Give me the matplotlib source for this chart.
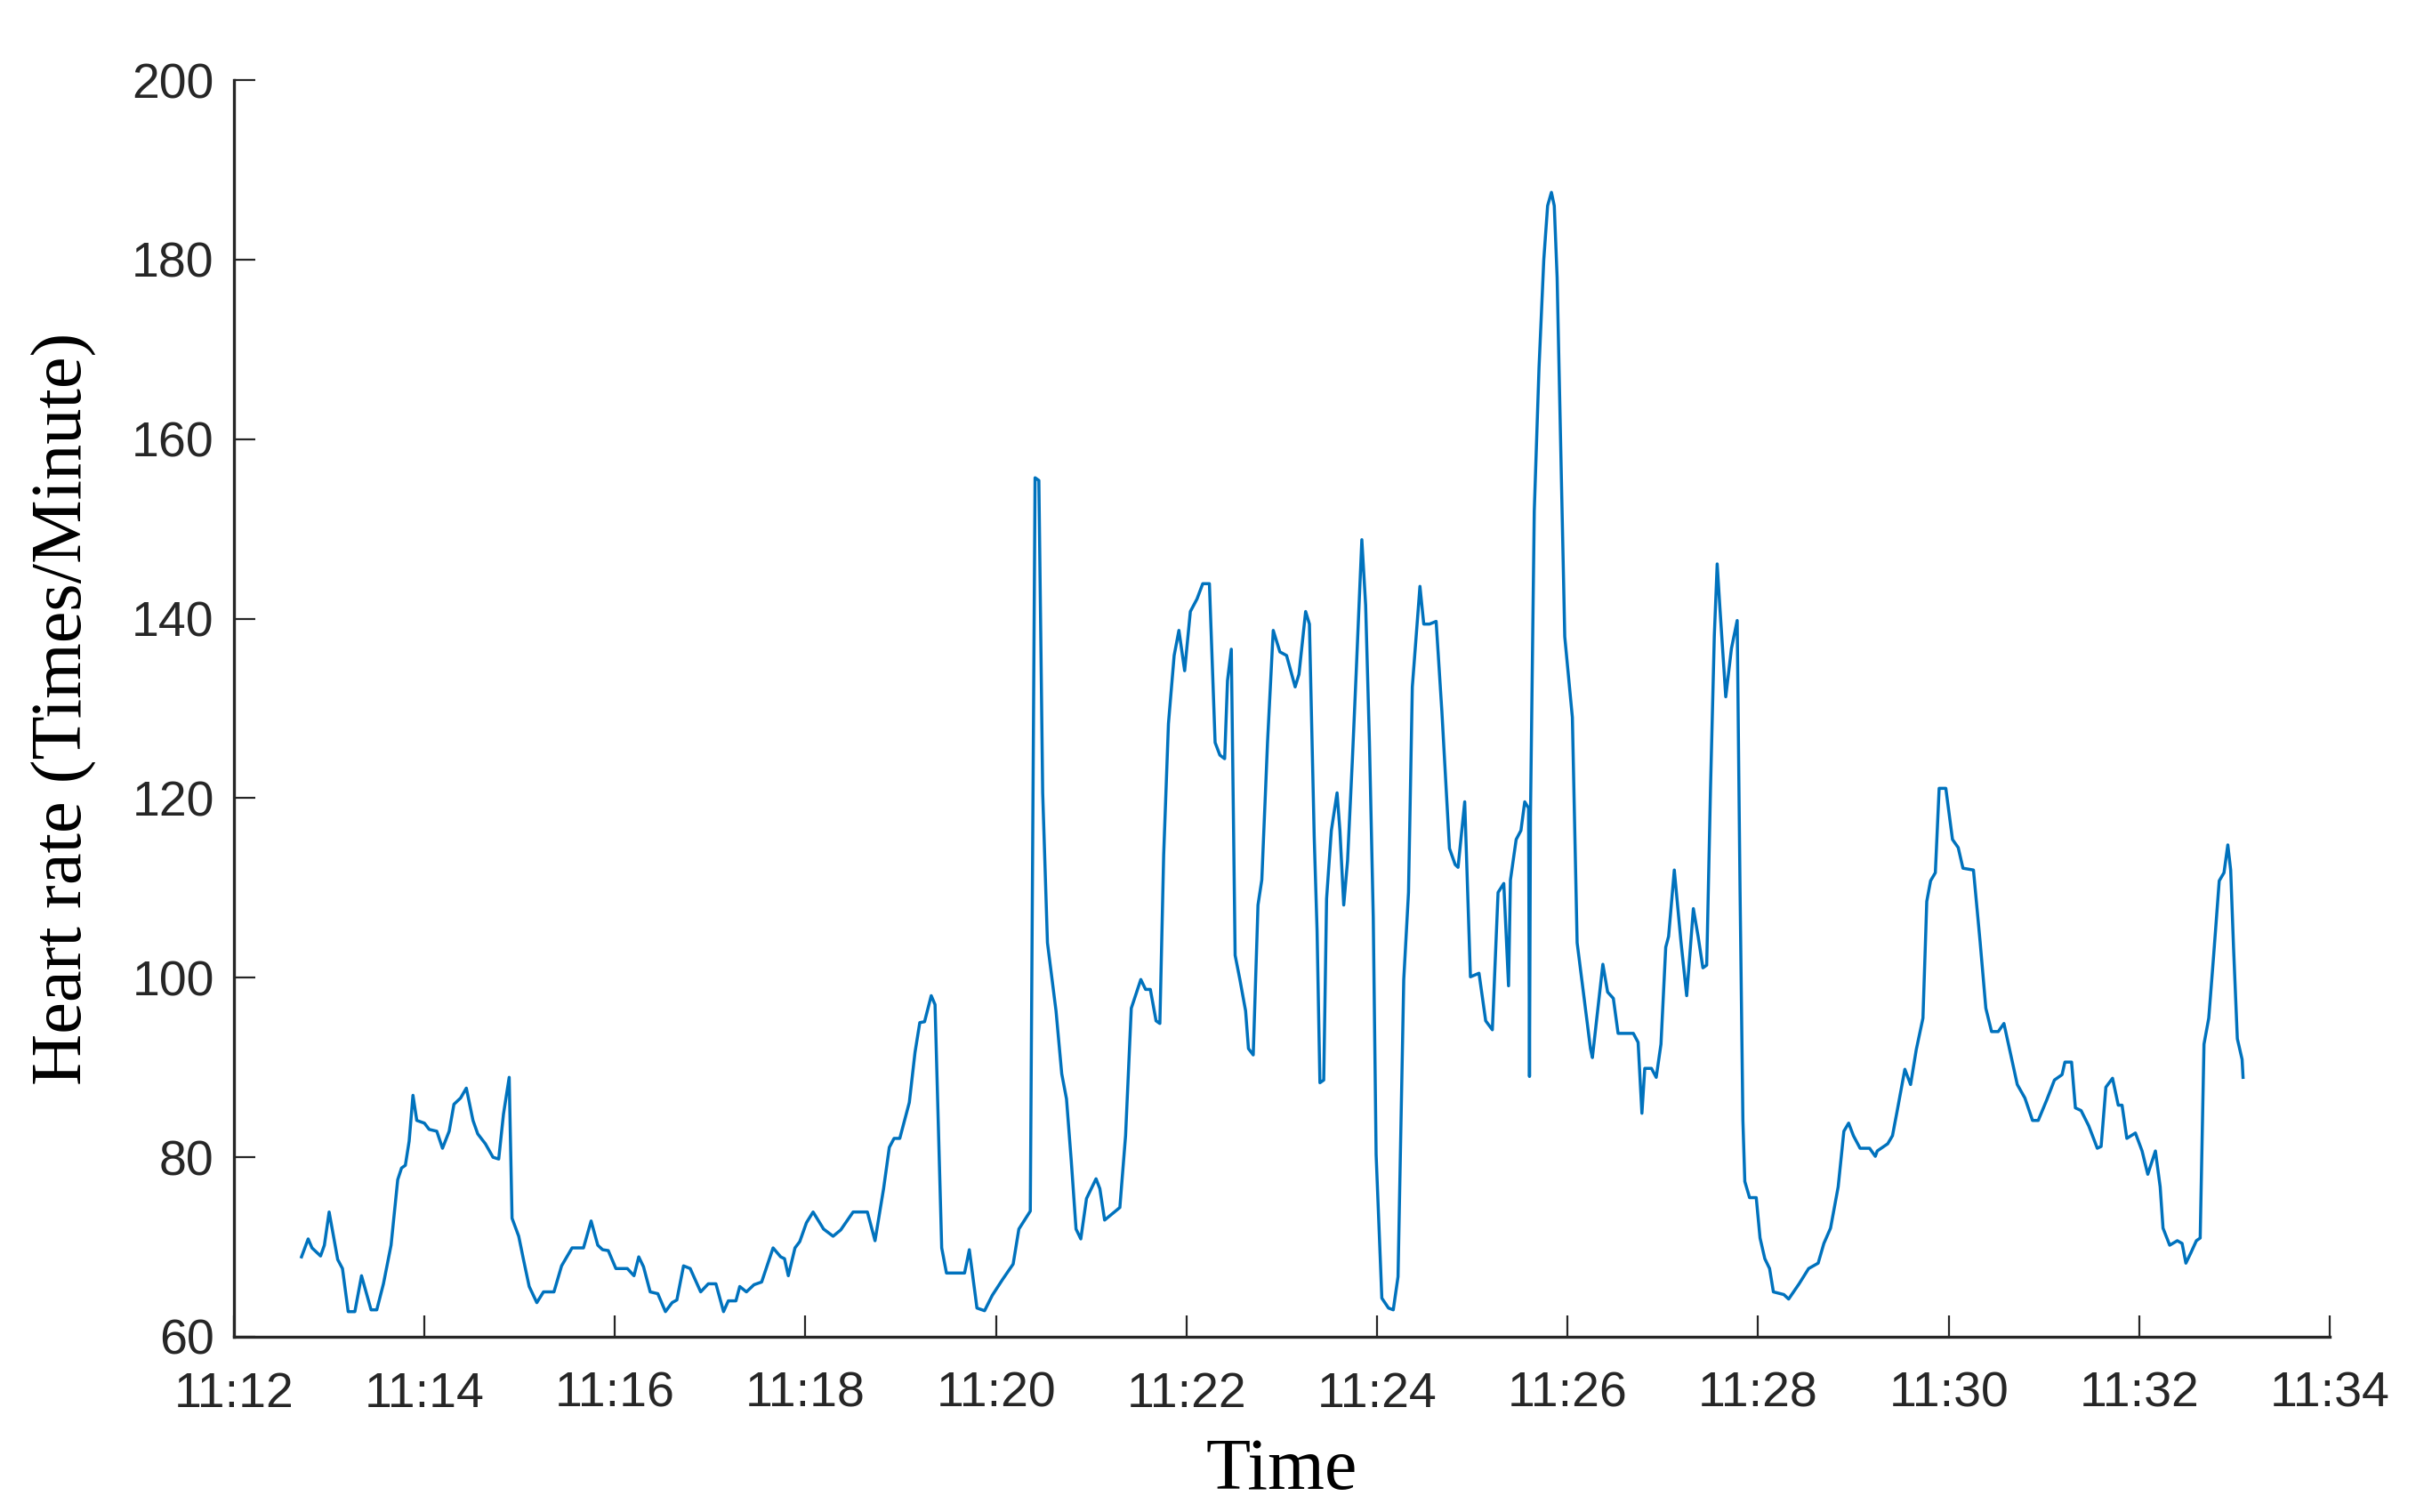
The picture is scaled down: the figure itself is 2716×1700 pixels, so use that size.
import numpy as np
import matplotlib
matplotlib.use("Agg")
import matplotlib.pyplot as plt
import matplotlib.dates as mdates

# minutes after 11:12 and heart rate
minutes = [
    0.71, 0.78, 0.82, 0.91, 0.95, 1.00, 1.09, 1.14, 1.20, 1.27, 1.34, 1.44, 1.50, 1.57, 1.65,
    1.72, 1.76, 1.80, 1.84, 1.88, 1.92, 2.00, 2.05, 2.13, 2.19, 2.26, 2.31, 2.38, 2.44, 2.51,
    2.56, 2.64, 2.72, 2.78, 2.83, 2.89, 2.92, 2.99, 3.04, 3.10, 3.18, 3.25, 3.36, 3.44, 3.55,
    3.67, 3.75, 3.82, 3.87, 3.93, 4.01, 4.13, 4.20, 4.25, 4.30, 4.37, 4.45, 4.53, 4.60, 4.65,
    4.72, 4.79, 4.90, 4.98, 5.06, 5.14, 5.19, 5.27, 5.31, 5.38, 5.46, 5.54, 5.66, 5.74, 5.78,
    5.82, 5.89, 5.94, 6.01, 6.08, 6.19, 6.29, 6.37, 6.50, 6.65, 6.73, 6.82, 6.88, 6.93, 6.99,
    7.09, 7.15, 7.20, 7.25, 7.32, 7.36, 7.43, 7.48, 7.67, 7.72, 7.80, 7.88, 7.96, 8.07, 8.18,
    8.24, 8.36, 8.41, 8.45, 8.49, 8.54, 8.63, 8.69, 8.74, 8.79, 8.84, 8.89, 8.95, 9.05, 9.09,
    9.14, 9.22, 9.30, 9.36, 9.42, 9.52, 9.57, 9.62, 9.68, 9.72, 9.76, 9.81, 9.87, 9.92, 9.98,
    10.04, 10.11, 10.17, 10.24, 10.30, 10.35, 10.40, 10.43, 10.47, 10.51, 10.56, 10.62, 10.65,
    10.70, 10.75, 10.79, 10.85, 10.91, 10.98, 11.05, 11.14, 11.18, 11.25, 11.29, 11.34, 11.37,
    11.40, 11.44, 11.47, 11.52, 11.58, 11.61, 11.65, 11.69, 11.74, 11.78, 11.84, 11.88, 11.92,
    11.96, 11.99, 12.05, 12.12, 12.17, 12.22, 12.28, 12.33, 12.37, 12.41, 12.45, 12.49, 12.55,
    12.62, 12.68, 12.76, 12.82, 12.85, 12.92, 12.98, 13.07, 13.14, 13.21, 13.27, 13.33, 13.38,
    13.40, 13.46, 13.51, 13.55, 13.59, 13.60, 13.61, 13.65, 13.70, 13.75, 13.79, 13.83, 13.86,
    13.89, 13.92, 13.97, 14.05, 14.10, 14.24, 14.26, 14.37, 14.42, 14.48, 14.53, 14.69, 14.74,
    14.78, 14.81, 14.88, 14.93, 14.98, 15.03, 15.06, 15.12, 15.19, 15.25, 15.32, 15.37, 15.42,
    15.46, 15.50, 15.54, 15.57, 15.60, 15.66, 15.72, 15.78, 15.81, 15.84, 15.86, 15.91, 15.98,
    16.02, 16.07, 16.12, 16.16, 16.27, 16.32, 16.43, 16.53, 16.63, 16.69, 16.76, 16.84, 16.90,
    16.95, 17.00, 17.07, 17.17, 17.23, 17.25, 17.36, 17.41, 17.46, 17.54, 17.60, 17.66, 17.73,
    17.77, 17.81, 17.86, 17.90, 17.97, 18.04, 18.10, 18.15, 18.26, 18.33, 18.39, 18.45, 18.52,
    18.58, 18.65, 18.72, 18.80, 18.88, 18.94, 19.03, 19.11, 19.19, 19.22, 19.29, 19.33, 19.39,
    19.47, 19.56, 19.60, 19.65, 19.72, 19.78, 19.82, 19.87, 19.96, 20.03, 20.09, 20.17, 20.22,
    20.25, 20.32, 20.40, 20.45, 20.49, 20.54, 20.60, 20.64, 20.68, 20.73, 20.78, 20.84, 20.89,
    20.93, 20.96, 20.99, 21.03, 21.08, 21.09,
]
heart_rate = [
    68.9, 70.9, 69.9, 69.0, 70.2, 73.9, 68.6, 67.6, 62.8, 62.8, 66.8, 63.0, 63.0, 65.9, 70.2,
    77.5, 78.8, 79.1, 81.8, 86.9, 84.1, 83.8, 83.1, 82.9, 81.0, 82.9, 85.9, 86.6, 87.7, 84.1,
    82.6, 81.5, 80.0, 79.8, 84.8, 88.9, 73.2, 71.2, 68.6, 65.6, 63.8, 65.0, 65.0, 67.9, 69.9,
    69.9, 72.9, 70.2, 69.7, 69.6, 67.6, 67.6, 66.8, 68.9, 67.8, 65.0, 64.8, 62.8, 63.8, 64.1,
    67.9, 67.6, 65.0, 65.9, 65.9, 62.8, 64.0, 64.0, 65.6, 65.0, 65.8, 66.1, 69.9, 68.9, 68.7,
    66.8, 69.9, 70.6, 72.7, 73.9, 72.0, 71.2, 71.9, 73.9, 73.9, 70.7, 76.5, 81.1, 82.1, 82.1,
    86.1, 91.7, 95.0, 95.1, 98.0, 97.0, 69.9, 67.1, 67.1, 69.7, 63.2, 62.9, 64.6, 66.4, 68.1,
    72.0, 74.0, 155.7, 155.4, 120.6, 103.9, 96.3, 89.3, 86.5, 79.6, 72.0, 70.9, 75.4, 77.6, 76.5,
    73.0, 73.7, 74.4, 82.4, 96.6, 99.8, 98.7, 98.7, 95.2, 94.9, 113.7, 128.3, 135.9, 138.7, 134.2,
    140.8, 142.2, 143.9, 143.9, 126.2, 124.8, 124.4, 133.1, 136.6, 102.5, 99.8, 96.3, 92.1,
    91.4, 108.1, 110.9, 126.2, 138.7, 136.3, 135.9, 132.4, 133.8, 140.8, 139.4, 115.7, 105.3,
    88.3, 88.6, 108.8, 116.4, 120.6, 116.4, 108.1, 113.0, 124.1, 133.8, 148.8, 141.5, 126.2,
    106.7, 80.3, 64.3, 63.2, 63.0, 66.7, 99.8, 109.5, 132.4, 138.0, 143.6, 139.4, 139.4,
    139.7, 129.7, 114.4, 112.6, 112.3, 119.6, 100.1, 100.5, 95.2, 94.2, 109.5, 110.5, 99.1,
    110.9, 115.4, 116.4, 119.6, 118.9, 89.0, 118.0, 152.0, 168.0, 180.0, 186.0, 187.5, 186.0,
    178.0, 163.0, 138.0, 129.0, 103.9, 92.1, 91.1, 101.5, 98.4, 97.7, 93.8, 93.8, 92.8,
    84.9, 89.9, 89.9, 88.9, 92.6, 103.4, 104.6, 112.0, 104.0, 98.0, 107.7, 104.6, 101.1,
    101.4, 121.1, 138.1, 146.1, 141.0, 131.3, 136.7, 139.8, 109.7, 84.1, 77.3, 75.5, 75.5,
    71.0, 68.7, 67.6, 65.0, 64.7, 64.2, 65.9, 67.6, 68.2, 70.4, 72.1, 76.7, 82.9,
    83.8, 82.4, 81.0, 81.0, 80.1, 80.7, 81.5, 82.4, 85.2, 89.8, 88.1, 92.0, 95.5,
    108.5, 110.8, 111.7, 121.1, 121.1, 115.4, 114.5, 112.2, 112.0, 104.0, 96.6, 94.0, 94.0,
    94.9, 91.5, 88.1, 86.6, 84.1, 84.1, 86.4, 88.6, 89.2, 90.6, 90.6, 85.5, 85.2,
    83.5, 81.0, 81.2, 87.8, 88.8, 85.8, 85.8, 82.1, 82.7, 80.7, 78.1, 80.7, 76.7,
    72.1, 70.2, 70.7, 70.4, 68.2, 69.3, 70.7, 71.0, 92.6, 95.5, 102.3, 110.8, 111.7,
    114.8, 112.0, 103.4, 93.2, 90.9, 88.9,
]
start = np.datetime64("2020-01-01T11:12:00")
end = np.datetime64("2020-01-01T11:34:00")

times = start + (np.array(minutes) * 60000).astype("timedelta64[ms]")

ink = "#262626"
plt.rcParams["font.family"] = "Liberation Sans"

fig = plt.figure(figsize=(13.58, 8.5), dpi=200)
ax = fig.add_axes([0.0968, 0.1159, 0.8675, 0.8311])

ax.plot(times, heart_rate, color="#0072BD", linewidth=1.25)

ax.set_xlim(start, end)
ax.set_ylim(60, 200)
ax.set_yticks(range(60, 201, 20))
ax.xaxis.set_major_locator(mdates.MinuteLocator(byminute=range(0, 60, 2)))
ax.xaxis.set_major_formatter(mdates.DateFormatter("%H:%M"))

ax.spines["top"].set_visible(False)
ax.spines["right"].set_visible(False)
for s in ["left", "bottom"]:
    ax.spines[s].set_color(ink)
    ax.spines[s].set_linewidth(1.2)

ax.tick_params(axis="both", direction="in", length=8.5, width=0.8, color=ink,
               labelcolor=ink, labelsize=20)
ax.tick_params(axis="x", pad=14)
ax.tick_params(axis="y", pad=8)

ax.set_xlabel("Time", family="Liberation Serif", fontsize=29.5, color="black", labelpad=8)
ax.set_ylabel("Heart rate (Times/Minute)", family="Liberation Serif", fontsize=29,
              color="black", labelpad=14)

fig.savefig("out.png", dpi=200, facecolor="white")
